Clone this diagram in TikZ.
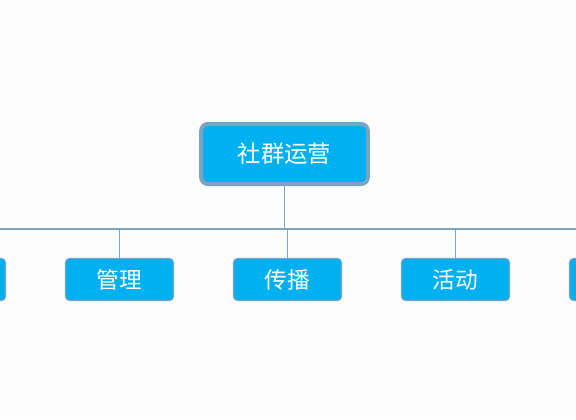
\documentclass[tikz,border=0pt]{standalone}
\usepackage{fontspec}
\newfontfamily\cjk{Noto Sans CJK SC}
\definecolor{boxfill}{HTML}{00B0F0}
\definecolor{boxline}{HTML}{7BA3C4}
\definecolor{linkline}{HTML}{7FA3C3}
\definecolor{paper}{HTML}{FCFCFC}

\begin{document}
\begin{tikzpicture}[x=0.75pt,y=-0.75pt,
  root/.style={draw=boxline,line width=3pt,fill=boxfill,rounded corners=5pt,
    minimum width=125pt,minimum height=45pt,text=white,
    font=\cjk\fontsize{17.5}{20}\selectfont},
  leaf/.style={draw=boxline,line width=0.8pt,fill=boxfill,rounded corners=3pt,
    minimum width=81pt,minimum height=31.5pt,text=white,
    font=\cjk\fontsize{17}{20}\selectfont},
  link/.style={draw=linkline,line width=1.1pt}]
  \fill[paper] (0,0) rectangle (576,419);
  \useasboundingbox (0,0) rectangle (576,419);
  \clip (0,0) rectangle (576,419);
  % top node and the bus line
  \coordinate (busL) at (-10,229);
  \coordinate (busR) at (586,229);
  \coordinate (bus) at (284.5,229);
  \draw[link] (busL) -- (busR);
  \draw[link] (284.5,154) -- (bus);
  \node[root] (top) at (284.5,154) {社群运营};
  % second row
  \node[leaf] (c0) at (-48.5,279.5) {};
  \node[leaf] (manage) at (119.5,279.5) {管理};
  \node[leaf] (spread) at (287.5,279.5) {传播};
  \node[leaf] (event) at (455.5,279.5) {活动};
  \node[leaf] (c4) at (623.5,279.5) {};
  \draw[link] (c0.north) -- (c0.north |- bus);
  \draw[link] (manage.north) -- (manage.north |- bus);
  \draw[link] (spread.north) -- (spread.north |- bus);
  \draw[link] (event.north) -- (event.north |- bus);
  \draw[link] (c4.north) -- (c4.north |- bus);
\end{tikzpicture}
\end{document}
